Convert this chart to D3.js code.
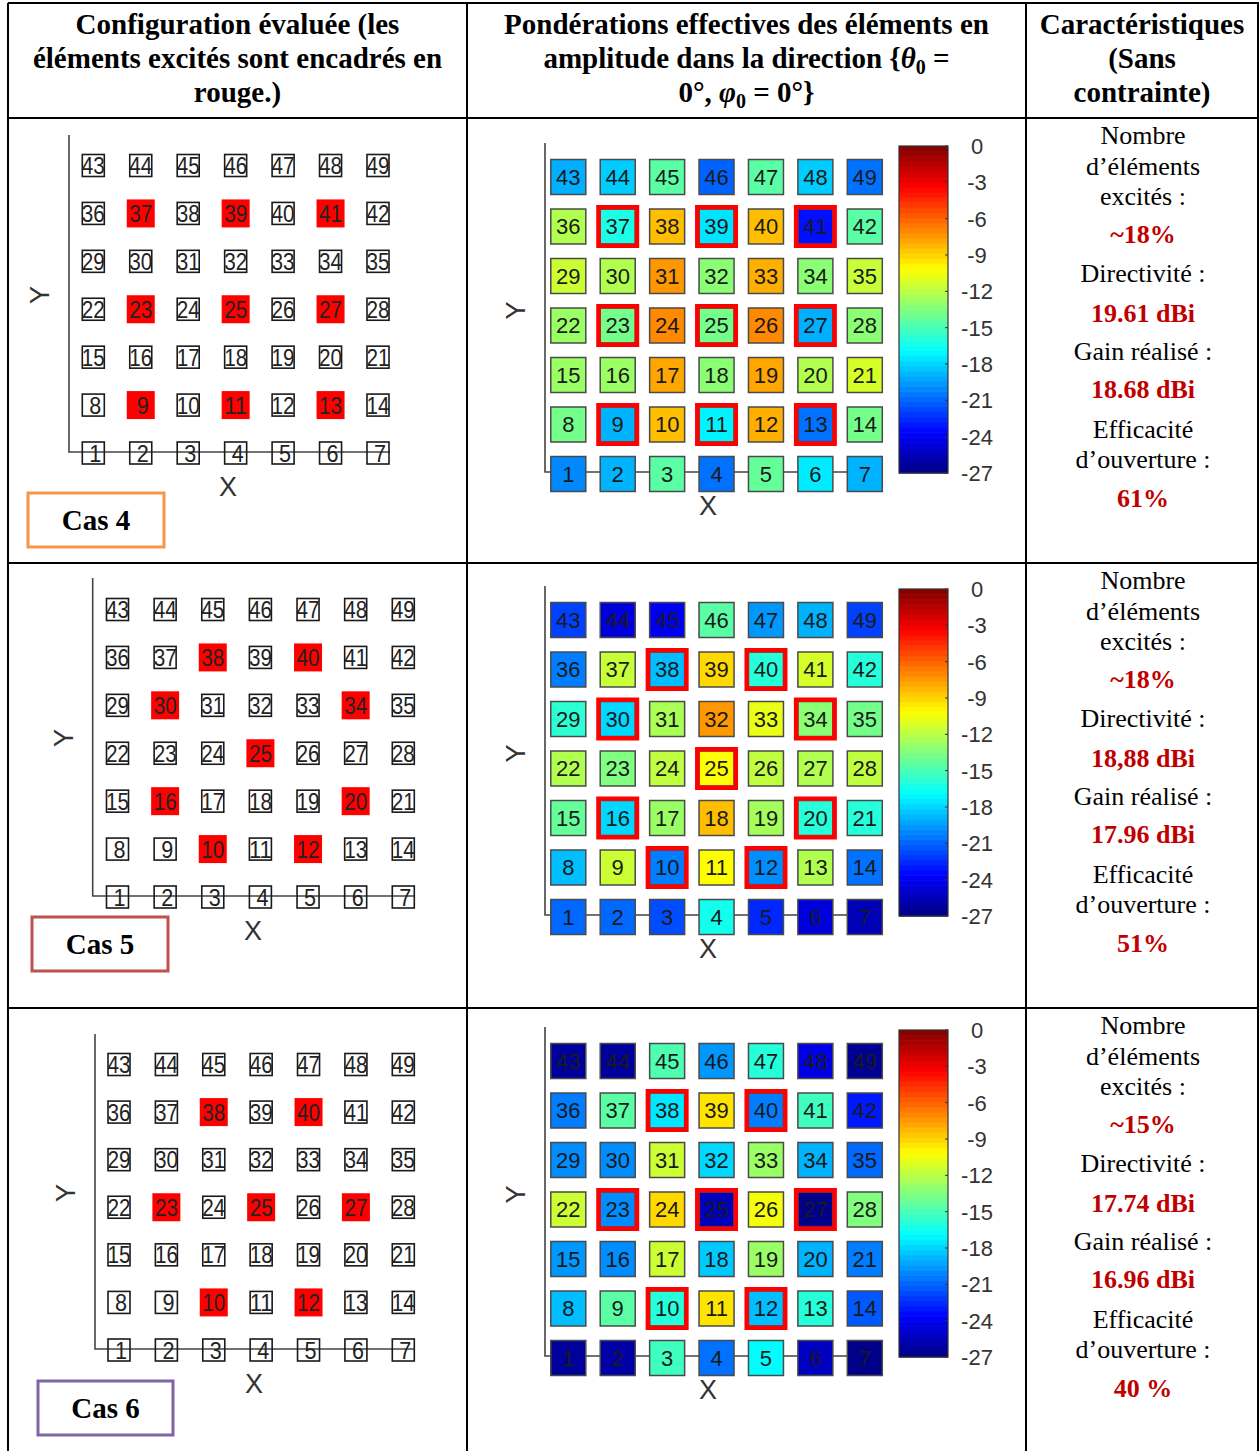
<!DOCTYPE html>
<html>
<head>
<meta charset="utf-8">
<script src="https://cdn.jsdelivr.net/npm/d3@7"></script>
<style>
  html, body { margin: 0; padding: 0; background: #fff; }
  svg { display: block; }
</style>
</head>
<body>
<script>
// ---------------- DATA ----------------
const caseNames = ["Cas 4", "Cas 5", "Cas 6"];
const elementIds = d3.range(1, 50);

const excitedCas4 = [9, 11, 13, 23, 25, 27, 37, 39, 41];
const excitedCas5 = [10, 12, 16, 20, 25, 30, 34, 38, 40];
const excitedCas6 = [10, 12, 23, 25, 27, 38, 40];

// effective amplitude weights (dB), elements 1..49
const weightsCas4 = [
  -20.0, -18.9, -14.5, -20.6, -14.2, -17.4, -18.9,
  -13.8, -18.9, -8.4, -17.2, -8.0, -20.6, -13.8,
  -12.8, -12.8, -7.8, -13.2, -7.8, -12.2, -11.2,
  -12.8, -13.8, -7.0, -13.8, -7.0, -19.0, -13.2,
  -11.5, -12.2, -7.4, -13.2, -8.0, -13.2, -11.6,
  -12.2, -16.2, -8.4, -17.6, -8.4, -23.2, -14.5,
  -19.0, -18.2, -14.5, -21.0, -14.5, -18.2, -20.6
];
const weightsCas5 = [
  -20.9, -20.9, -21.6, -16.4, -22.6, -24.6, -25.6,
  -18.6, -11.5, -20.3, -10.1, -19.9, -12.2, -20.6,
  -14.2, -17.9, -12.8, -8.4, -12.5, -15.9, -15.9,
  -12.2, -13.5, -11.8, -10.1, -11.8, -12.2, -11.8,
  -15.7, -17.9, -12.4, -7.4, -10.7, -13.2, -13.8,
  -20.3, -11.6, -18.6, -9.1, -15.9, -11.2, -15.9,
  -21.9, -24.6, -24.0, -14.5, -19.6, -18.9, -21.9
];
const weightsCas6 = [
  -26.3, -26.0, -15.2, -20.6, -16.9, -25.3, -26.8,
  -18.6, -14.5, -15.9, -9.4, -18.6, -15.9, -21.3,
  -19.6, -19.9, -11.5, -18.3, -12.8, -18.9, -20.3,
  -11.5, -19.9, -9.1, -25.5, -10.4, -26.8, -13.5,
  -19.9, -19.9, -11.5, -17.9, -12.8, -18.9, -20.9,
  -20.3, -14.5, -17.5, -9.4, -20.3, -15.2, -23.0,
  -26.3, -26.3, -14.8, -19.6, -15.9, -24.3, -26.5
];

const colorbarTicks = [0, -3, -6, -9, -12, -15, -18, -21, -24, -27];

const headerConfig = ["Configuration évaluée (les", "éléments excités sont encadrés en", "rouge.)"];
const headerWeights1 = "Pondérations effectives des éléments en";
const headerCharac = ["Caractéristiques", "(Sans", "contrainte)"];

const charLabels = ["Nombre", "d’éléments", "excités :", null, "Directivité :", null, "Gain réalisé :", null, "Efficacité", "d’ouverture :", null];
const valuesCas4 = ["~18%", "19.61 dBi", "18.68 dBi", "61%"];
const valuesCas5 = ["~18%", "18,88 dBi", "17.96 dBi", "51%"];
const valuesCas6 = ["~15%", "17.74 dBi", "16.96 dBi", "40 %"];

// ---------------- LAYOUT ----------------
const W = 1259, H = 1451;
const colX = [8, 467, 1026, 1258];
const rowY = [3, 118, 563, 1008];
const serif = "'Liberation Serif', 'Times New Roman', Times, serif";
const sans = "'Liberation Sans', Arial, Helvetica, sans-serif";

const excited = [excitedCas4, excitedCas5, excitedCas6];
const weights = [weightsCas4, weightsCas5, weightsCas6];
const values = [valuesCas4, valuesCas5, valuesCas6];

const leftLayout = [
  {x0: 93.3, x1: 378, yTop: 165.5, yBot: 453, axX: 69, axTop: 135, axRight: 390, xl: [228, 486], yl: [39, 295], box: [28, 493, 136, 54], color: "#F79646"},
  {x0: 117.5, x1: 403.3, yTop: 609.5, yBot: 897, axX: 92.7, axTop: 578, axRight: 415, xl: [253, 930], yl: [63, 738], box: [32, 917, 136, 54], color: "#C0504D"},
  {x0: 119, x1: 403.3, yTop: 1064.5, yBot: 1350, axX: 95, axTop: 1034, axRight: 415, xl: [254, 1383], yl: [65, 1193], box: [38, 1381, 135, 54], color: "#8064A2"}
];
const heatTop = [177, 620, 1061];
const heatBot = [474, 917, 1358];

const svg = d3.select("body").append("svg").attr("width", W).attr("height", H);
svg.append("rect").attr("width", W).attr("height", H).attr("fill", "#fff");

// jet colormap
const jet = d3.scaleLinear()
  .domain([-27, -23.625, -16.875, -10.125, -3.375, 0])
  .range(["#000080", "#0000ff", "#00ffff", "#ffff00", "#ff0000", "#800000"])
  .clamp(true);

const colOf = n => (n - 1) % 7;
const rowOf = n => Math.floor((n - 1) / 7);

// ---------------- HEADER ----------------
const hdr = svg.append("g").attr("font-family", serif).attr("font-weight", "bold")
  .attr("font-size", 29).attr("fill", "#000").attr("text-anchor", "middle");
const hdrBase = [34, 68, 102];
headerConfig.forEach((t, i) => hdr.append("text").attr("x", (colX[0] + colX[1]) / 2).attr("y", hdrBase[i]).text(t));
headerCharac.forEach((t, i) => hdr.append("text").attr("x", 1142).attr("y", hdrBase[i]).text(t));
const midX = (colX[1] + colX[2]) / 2;
hdr.append("text").attr("x", midX).attr("y", hdrBase[0]).text(headerWeights1);
const l2 = hdr.append("text").attr("x", midX).attr("y", hdrBase[1]);
l2.append("tspan").text("amplitude dans la direction {");
l2.append("tspan").attr("font-style", "italic").text("θ");
l2.append("tspan").attr("font-size", 20).attr("dy", 6).text("0");
l2.append("tspan").attr("dy", -6).text(" =");
const l3 = hdr.append("text").attr("x", midX).attr("y", hdrBase[2]);
l3.append("tspan").text("0°, ");
l3.append("tspan").attr("font-style", "italic").text("φ");
l3.append("tspan").attr("font-size", 20).attr("dy", 6).text("0");
l3.append("tspan").attr("dy", -6).text(" = 0°}");

// ---------------- TABLE LINES ----------------
const lines = svg.append("g").attr("stroke", "#000").attr("stroke-width", 2);
rowY.forEach(y => lines.append("line").attr("x1", colX[0]).attr("x2", W).attr("y1", y).attr("y2", y));
colX.forEach(x => lines.append("line").attr("x1", x).attr("x2", x).attr("y1", rowY[0]).attr("y2", H));

// ---------------- PER CASE ----------------
caseNames.forEach((name, ci) => {
  const ex = new Set(excited[ci]);

  // ----- left: configuration -----
  const L = leftLayout[ci];
  const lx = d3.scaleLinear().domain([0, 6]).range([L.x0, L.x1]);
  const ly = d3.scaleLinear().domain([0, 6]).range([L.yBot, L.yTop]);
  const gl = svg.append("g");
  gl.append("path")
    .attr("d", `M${L.axX},${L.axTop}V${L.yBot - 1}H${L.axRight}`)
    .attr("fill", "none").attr("stroke", "#444").attr("stroke-width", 1.6);
  const lc = gl.selectAll("g.cell").data(elementIds).join("g")
    .attr("transform", n => `translate(${lx(colOf(n))},${ly(rowOf(n))})`);
  lc.filter(n => ex.has(n)).append("rect")
    .attr("x", -14).attr("y", -14).attr("width", 28).attr("height", 28).attr("fill", "#ff0000");
  lc.filter(n => !ex.has(n)).append("rect")
    .attr("x", -11).attr("y", -11).attr("width", 22).attr("height", 22)
    .attr("fill", "none").attr("stroke", "#1a1a1a").attr("stroke-width", 1.6);
  lc.append("text")
    .attr("x", n => n < 10 ? 2 : 0).attr("y", 0).attr("dy", "0.36em")
    .attr("text-anchor", "middle").attr("font-family", sans).attr("font-size", 24)
    .attr("fill", "#222")
    .attr("textLength", n => n < 10 ? 12 : 23).attr("lengthAdjust", "spacingAndGlyphs")
    .text(n => n);
  gl.append("text").attr("x", L.xl[0]).attr("y", L.xl[1]).attr("dy", "0.36em")
    .attr("text-anchor", "middle").attr("font-family", sans).attr("font-size", 27).attr("fill", "#333").text("X");
  gl.append("text").attr("transform", `translate(${L.yl[0]},${L.yl[1]}) rotate(-90)`).attr("dy", "0.36em")
    .attr("text-anchor", "middle").attr("font-family", sans).attr("font-size", 27).attr("fill", "#333").text("Y");
  gl.append("rect").attr("x", L.box[0]).attr("y", L.box[1]).attr("width", L.box[2]).attr("height", L.box[3])
    .attr("fill", "#fff").attr("stroke", L.color).attr("stroke-width", 3);
  gl.append("text").attr("x", L.box[0] + L.box[2] / 2).attr("y", L.box[1] + L.box[3] / 2 + 10)
    .attr("text-anchor", "middle").attr("font-family", serif).attr("font-weight", "bold")
    .attr("font-size", 29).attr("fill", "#000").text(name);

  // ----- middle: heatmap -----
  const top = heatTop[ci], bot = heatBot[ci];
  const hx = d3.scaleLinear().domain([0, 6]).range([568.3, 864.8]);
  const hy = d3.scaleLinear().domain([0, 6]).range([bot, top]);
  const gh = svg.append("g");
  const cbTop = top - 31, cbBot = bot - 1;
  gh.append("path")
    .attr("d", `M545,${cbTop - 3}V${bot - 2}H882`)
    .attr("fill", "none").attr("stroke", "#444").attr("stroke-width", 1.6);
  const hc = gh.selectAll("g.cell").data(elementIds).join("g")
    .attr("transform", n => `translate(${hx(colOf(n))},${hy(rowOf(n))})`);
  hc.append("rect").attr("x", -17.5).attr("y", -17.5).attr("width", 35).attr("height", 35)
    .attr("fill", n => jet(weights[ci][n - 1]))
    .attr("stroke", "#4a4a4a").attr("stroke-width", 1.5);
  hc.filter(n => ex.has(n)).append("rect")
    .attr("x", -19.25).attr("y", -19.25).attr("width", 38.5).attr("height", 38.5)
    .attr("fill", "none").attr("stroke", "#ff0000").attr("stroke-width", 4.5);
  hc.append("text").attr("y", 0).attr("dy", "0.36em").attr("text-anchor", "middle")
    .attr("font-family", sans).attr("font-size", 22).attr("fill", "#1a1a1a").text(n => n);
  gh.append("text").attr("x", 708).attr("y", bot + 31).attr("dy", "0.36em")
    .attr("text-anchor", "middle").attr("font-family", sans).attr("font-size", 27).attr("fill", "#333").text("X");
  gh.append("text").attr("transform", `translate(515,${(top + bot) / 2 - 15}) rotate(-90)`).attr("dy", "0.36em")
    .attr("text-anchor", "middle").attr("font-family", sans).attr("font-size", 27).attr("fill", "#333").text("Y");

  // colorbar
  const cy = d3.scaleLinear().domain([-27, 0]).range([cbBot, cbTop]);
  const nBands = 64;
  const bands = d3.range(nBands).map(i => -27 + 27 * i / nBands);
  gh.selectAll("rect.band").data(bands).join("rect")
    .attr("x", 899).attr("width", 49)
    .attr("y", v => cy(v + 27 / nBands)).attr("height", v => cy(v) - cy(v + 27 / nBands) + 0.6)
    .attr("fill", v => jet(v + 27 / nBands / 2));
  gh.append("rect").attr("x", 899).attr("y", cbTop).attr("width", 49).attr("height", cbBot - cbTop)
    .attr("fill", "none").attr("stroke", "#333").attr("stroke-width", 1.2);
  gh.selectAll("line.tk").data(colorbarTicks).join("line")
    .attr("x1", 945).attr("x2", 948).attr("y1", v => cy(v)).attr("y2", v => cy(v))
    .attr("stroke", "#333").attr("stroke-width", 1);
  gh.selectAll("text.tl").data(colorbarTicks).join("text")
    .attr("x", 977).attr("y", v => cy(v)).attr("dy", "0.36em").attr("text-anchor", "middle")
    .attr("font-family", sans).attr("font-size", 22).attr("fill", "#333").text(v => v);

  // ----- right: characteristics -----
  const rowTop = rowY[ci + 1];
  const baseOff = [26.3, 57, 87, 125, 163.7, 203.7, 242, 280, 320, 350, 388.7];
  let vi = 0;
  charLabels.forEach((lab, i) => {
    const t = svg.append("text").attr("x", 1143).attr("y", rowTop + baseOff[i])
      .attr("text-anchor", "middle").attr("font-family", serif).attr("font-size", 26);
    if (lab === null) {
      t.attr("font-weight", "bold").attr("fill", "#C00000").text(values[ci][vi++]);
    } else {
      t.attr("fill", "#000").text(lab);
    }
  });
});
</script>
</body>
</html>
